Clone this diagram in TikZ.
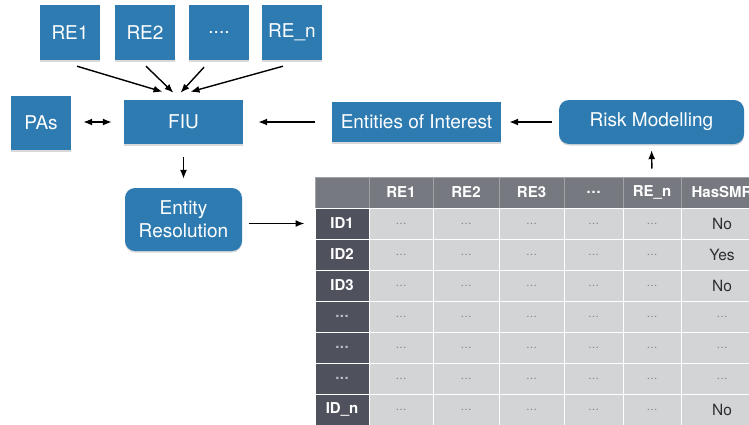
\documentclass[tikz,border=0pt]{standalone}
\usepackage{fontspec}
\setmainfont{TeX Gyre Heros}
\usetikzlibrary{arrows.meta,shadows}
\definecolor{boxblue}{RGB}{46,123,178}
\definecolor{hdrgray}{RGB}{118,121,128}
\definecolor{hdrline}{RGB}{160,162,167}
\definecolor{idgray}{RGB}{79,81,93}
\definecolor{cellgray}{RGB}{211,212,214}
\definecolor{dotgray}{RGB}{125,125,125}
\definecolor{valgray}{RGB}{45,45,45}
\definecolor{iddots}{RGB}{190,190,195}
\newcommand\iddotstext{\textcolor{iddots}{.\kern0.5pt.\kern0.5pt.}}
\newcommand\celldots{\textcolor{dotgray}{\fontsize{11}{12}\selectfont\ldots}}
\tikzset{
  box/.style={fill=boxblue, text=white, font=\fontsize{19}{23}\selectfont,
    inner sep=0pt, align=center,
    drop shadow={opacity=0.3, shadow xshift=0pt, shadow yshift=-1.5pt}},
  rbox/.style={box, rounded corners=10pt},
  arr/.style={-{Latex[length=9pt,width=7pt]}, line width=1.4pt},
  darr/.style={{Latex[length=9pt,width=7pt]}-{Latex[length=9pt,width=7pt]}, line width=1.4pt},
  cell/.style={draw=white, line width=1pt, inner sep=0pt, minimum height=31pt},
  hcell/.style={cell, draw=hdrline, fill=hdrgray, text=white, font=\fontsize{15}{17}\selectfont\bfseries},
  idcell/.style={cell, fill=idgray, text=white, font=\fontsize{15}{17}\selectfont\bfseries},
  dcell/.style={cell, fill=cellgray, text=dotgray, font=\fontsize{11}{12}\selectfont},
  vcell/.style={cell, fill=cellgray, text=valgray, font=\fontsize{15.5}{17}\selectfont}
}
\begin{document}
\begin{tikzpicture}[x=1pt,y=-1pt]
\useasboundingbox (0,0) rectangle (749,424);
\clip (0,0) rectangle (749,424);

% top row
\node[box, minimum width=60pt, minimum height=55pt] (re1) at (70,32.5) {RE1};
\node[box, minimum width=60pt, minimum height=55pt] (re2) at (145,32.5) {RE2};
\node[box, minimum width=60pt, minimum height=55pt] (red) at (219,32.5) {....};
\node[box, minimum width=60pt, minimum height=55pt] (ren) at (292,32.5) {RE\_n};

% middle row
\node[box, minimum width=60pt, minimum height=54pt] (pas) at (41,123) {PAs};
\node[box, minimum width=119pt, minimum height=44pt] (fiu) at (183.5,122) {FIU};
\node[box, minimum width=169pt, minimum height=40pt] (ent) at (416.5,122) {Entities of Interest};
\node[rbox, minimum width=185pt, minimum height=44pt] (risk) at (651.5,122) {Risk Modelling};
\node[rbox, minimum width=117pt, minimum height=63pt] (er) at (183.5,219.5) {Entity\\[0pt]Resolution};

% table header
\foreach \x/\w/\t [count=\i from 0] in {342/54/{}, 401/64/RE1, 466/66/RE2, 531.5/65/RE3, 593.5/59/\ldots, 652/58/RE\_n, 722/82/HasSMR}
  \node[hcell, minimum width=\w pt] (h\i) at (\x,192.5) {\t};

% first column
\foreach \t [count=\rr] in {ID1, ID2, ID3, \iddotstext, \iddotstext, \iddotstext, ID\_n}
  \node[idcell, minimum width=54pt] (c\rr-0) at (342,192.5+31*\rr) {\t};

% middle cells
\foreach \x/\w [count=\j] in {401/64, 466/66, 531.5/65, 593.5/59, 652/58}
  \foreach \rr in {1,2,3,4,5,6,7}
    \node[dcell, minimum width=\w pt] (c\rr-\j) at (\x,192.5+31*\rr) {\ldots};

% last column
\foreach \t [count=\rr] in {No, Yes, No, \celldots, \celldots, \celldots, No}
  \node[vcell, minimum width=82pt] (c\rr-6) at (722,192.5+31*\rr) {\t};

% connectors
\draw[arr] ([xshift=7pt,yshift=-6pt]re1.south) -- ([xshift=-21pt,yshift=8pt]fiu.north);
\draw[arr] ([xshift=1pt,yshift=-6pt]re2.south) -- ([xshift=-10pt,yshift=7pt]fiu.north);
\draw[arr] ([xshift=-15pt,yshift=-7pt]red.south) -- ([xshift=-3pt,yshift=7pt]fiu.north);
\draw[arr] ([xshift=-9pt,yshift=-6pt]ren.south) -- ([xshift=7pt,yshift=8pt]fiu.north);
\draw[darr, shorten <=12pt, shorten >=12pt] (pas.east |- fiu.west) -- (fiu.west);
\draw[arr, shorten <=17pt, shorten >=15pt] (ent.west) -- (fiu.east);
\draw[arr, shorten <=7pt, shorten >=8pt] (risk.west) -- (ent.east);
\draw[arr, shorten <=13pt, shorten >=9pt] (fiu.south) -- (er.north);
\draw[arr, shorten <=7pt, shorten >=10pt] (er.east |- c1-0.west) -- (c1-0.west);
\draw[arr, shorten <=8pt, shorten >=6pt] (h5.north) -- (risk.south);
\end{tikzpicture}
\end{document}
